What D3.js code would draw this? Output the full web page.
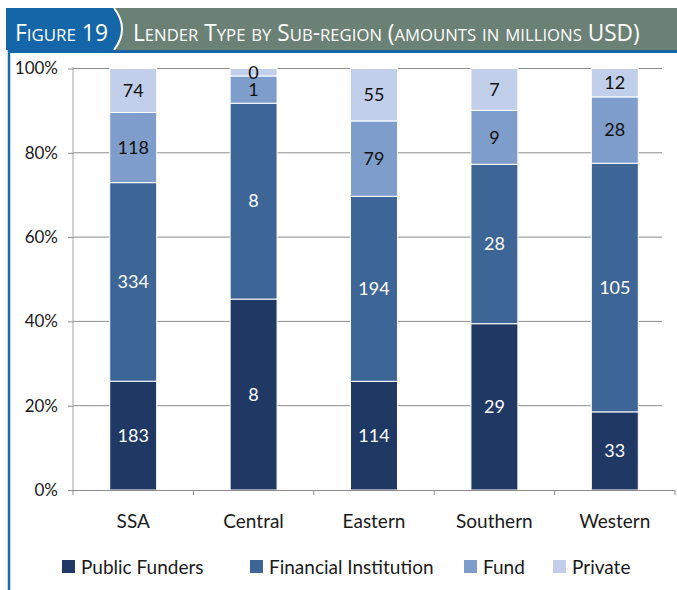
<!DOCTYPE html>
<html>
<head>
<meta charset="utf-8">
<script src="https://cdn.jsdelivr.net/npm/d3@7"></script>
<style>
  body { margin: 0; background: #fff; }
  svg { display: block; }
  text { font-family: Lato, "Open Sans", sans-serif; }
</style>
</head>
<body>
<svg id="chart"></svg>
<script>
// categories and series (amounts in millions USD)
var regions = ["SSA", "Central", "Eastern", "Southern", "Western"];
var lenderTypes = ["Public Funders", "Financial Institution", "Fund", "Private"];
var publicFunders = [183, 7.7, 114, 29.0, 33];
var financialInstitution = [334, 7.9, 194, 27.8, 105];
var fund = [118, 1.1, 79, 9.4, 28];
var privateLenders = [74, 0.3, 55, 7.3, 12];
var yTicks = [0, 0.2, 0.4, 0.6, 0.8, 1];

var colors = ["#1f3864", "#3d6596", "#7f9dcb", "#c1cfea"];
var labelColors = ["#fff", "#fff", "#111", "#111"];

var width = 677, height = 590;
var svg = d3.select("#chart").attr("width", width).attr("height", height);

// build rows for the stack
var series = [publicFunders, financialInstitution, fund, privateLenders];
var rows = regions.map(function(r, i) {
    var o = {region: r};
    lenderTypes.forEach(function(k, j) { o[k] = series[j][i]; });
    return o;
});
var stacked = d3.stack().keys(lenderTypes).offset(d3.stackOffsetExpand)(rows);

//////////////////////////TITLE//////////////////////////
svg.append("rect")
    .attr("x", 6).attr("y", 8)
    .attr("width", width - 6).attr("height", 42)
    .attr("fill", "#6b8175");
svg.append("path")
    .attr("d", "M6,8 L114,8 Q130,29 114,50 L6,50 Z")
    .attr("fill", "#1565a9");
svg.append("path")
    .attr("d", "M114,8 Q130,29 114,50")
    .attr("fill", "none")
    .attr("stroke", "#fff")
    .attr("stroke-width", 2);
svg.append("line")
    .attr("x1", 8).attr("x2", width)
    .attr("y1", 51.5).attr("y2", 51.5)
    .attr("stroke", "#1565a9").attr("stroke-width", 3);
svg.append("line")
    .attr("x1", 9).attr("x2", 9)
    .attr("y1", 50).attr("y2", height)
    .attr("stroke", "#1a6ab0").attr("stroke-width", 2.5);

// small caps title pieces, squeezed to the width they take in the picture
function smallCaps(str, x, targetW) {
    var t = svg.append("text")
        .attr("y", 41)
        .attr("fill", "#fff")
        .style("font-family", "'Open Sans', sans-serif");
    str.split("").forEach(function(ch) {
        var small = ch !== ch.toUpperCase();
        t.append("tspan")
            .attr("font-size", small ? "17px" : "23px")
            .text(ch.toUpperCase());
    });
    var w = t.node().getComputedTextLength();
    t.attr("transform", "translate(" + x + ",0) scale(" + (targetW / w) + ",1)");
}
smallCaps("Figure 19", 15, 93);
smallCaps("Lender Type by Sub-region (amounts in millions USD)", 133, 507);

//////////////////////////SCALES//////////////////////////
var x = d3.scaleBand()
    .domain(regions)
    .range([73, 675])
    .paddingInner(0.61)
    .paddingOuter(0.305);
var y = d3.scaleLinear()
    .domain([0, 1])
    .range([490, 68.5]);

// gridlines
svg.append("g")
    .selectAll("line")
    .data(yTicks.slice(1))
    .enter()
    .append("line")
    .attr("x1", 73).attr("x2", 662)
    .attr("y1", function(d) { return y(d); })
    .attr("y2", function(d) { return y(d); })
    .attr("stroke", "#8c8c8c")
    .attr("stroke-width", 1);

// Y axis
var yAxis = svg.append("g")
    .attr("transform", "translate(73,0)")
    .call(d3.axisLeft(y).tickValues(yTicks).tickFormat(d3.format(".0%")).tickSize(5).tickPadding(10));
yAxis.select(".domain").attr("stroke", "#a6a6a6").attr("d", "M0,67V490");
yAxis.selectAll(".tick line").attr("stroke", "#8c8c8c");
yAxis.selectAll("text")
    .attr("font-size", "17px")
    .attr("fill", "#1a1a1a")
    .style("font-family", "Lato, sans-serif");

//////////////////////////BARS//////////////////////////
var layers = svg.append("g")
    .selectAll("g")
    .data(stacked)
    .enter()
    .append("g")
    .attr("fill", function(d, i) { return colors[i]; });

layers.selectAll("rect")
    .data(function(d) { return d; })
    .enter()
    .append("rect")
    .attr("x", function(d) { return x(d.data.region); })
    .attr("y", function(d) { return y(d[1]); })
    .attr("width", x.bandwidth())
    .attr("height", function(d) { return y(d[0]) - y(d[1]); })
    .attr("stroke", "#fff")
    .attr("stroke-width", 1);

// value labels
var fmt = d3.format(".0f");
stacked.forEach(function(layer, i) {
    svg.append("g")
        .selectAll("text")
        .data(layer)
        .enter()
        .append("text")
        .attr("x", function(d) { return x(d.data.region) + x.bandwidth() / 2; })
        .attr("y", function(d) { return (y(d[0]) + y(d[1])) / 2; })
        .attr("dy", "0.35em")
        .attr("text-anchor", "middle")
        .attr("font-size", "18px")
        .attr("fill", labelColors[i])
        .text(function(d) { return fmt(d.data[layer.key]); });
});

//////////////////////////X AXIS//////////////////////////
svg.append("line")
    .attr("x1", 73).attr("x2", 675)
    .attr("y1", 490.5).attr("y2", 490.5)
    .attr("stroke", "#8c8c8c");
svg.append("g")
    .selectAll("line")
    .data(d3.range(regions.length + 1))
    .enter()
    .append("line")
    .attr("x1", function(i) { return x.range()[0] + i * x.step(); })
    .attr("x2", function(i) { return x.range()[0] + i * x.step(); })
    .attr("y1", 490).attr("y2", 495)
    .attr("stroke", "#8c8c8c");
svg.append("g")
    .selectAll("text")
    .data(regions)
    .enter()
    .append("text")
    .attr("x", function(d) { return x(d) + x.bandwidth() / 2; })
    .attr("y", 528)
    .attr("text-anchor", "middle")
    .attr("font-size", "19px")
    .attr("fill", "#1a1a1a")
    .text(function(d) { return d; });

//////////////////////////LEGEND//////////////////////////
var legendX = [62, 250, 464, 553];
var legend = svg.append("g")
    .selectAll("g")
    .data(lenderTypes)
    .enter()
    .append("g")
    .attr("transform", function(d, i) { return "translate(" + legendX[i] + ",560)"; });
legend.append("rect")
    .attr("width", 13).attr("height", 13)
    .attr("fill", function(d, i) { return colors[i]; });
legend.append("text")
    .attr("x", 19).attr("y", 14)
    .attr("font-size", "19px")
    .attr("fill", "#1a1a1a")
    .text(function(d) { return d; });
</script>
</body>
</html>
